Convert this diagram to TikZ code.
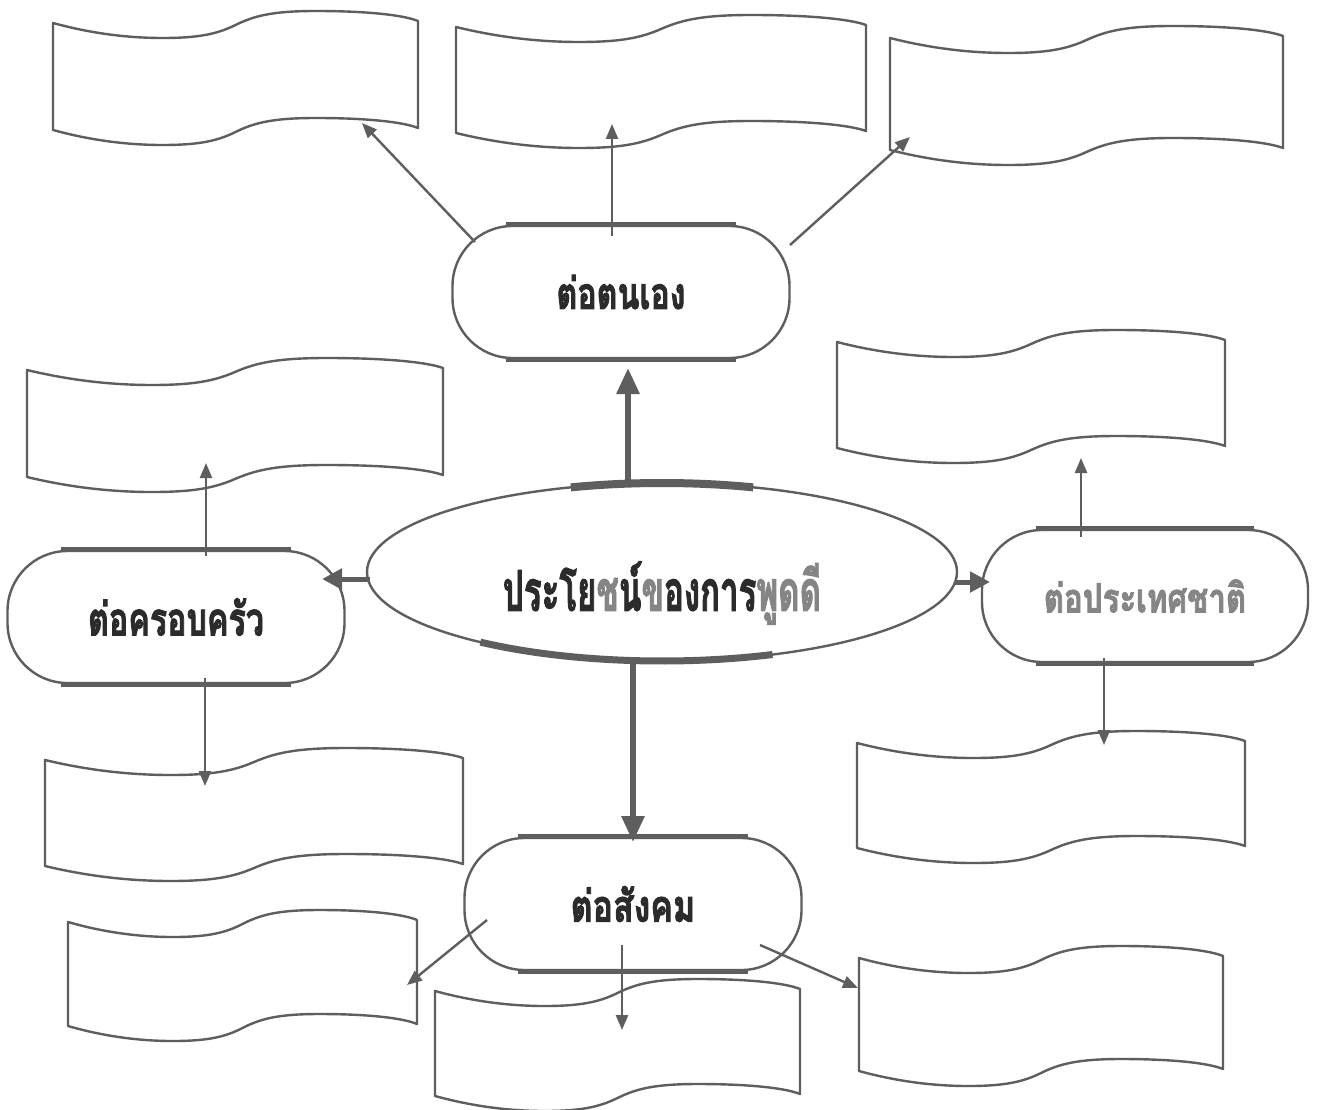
\documentclass[tikz,border=0pt]{standalone}
\usepackage{fontspec}
\usepackage{graphicx}
\newfontfamily\thai[Script=Thai,FakeBold=2.4]{Loma}
\usetikzlibrary{arrows.meta,shapes.geometric}
\definecolor{ln}{HTML}{5E5E5E}
\definecolor{tx}{HTML}{2B2B2B}
\definecolor{tl}{HTML}{858585}

\newcommand\tape[5]{%
\begin{scope}[shift={(#2,#3)}]
\draw[tapeline] (0,0) .. controls ({0.1*#4},10) and ({0.2*#4},15) .. ({0.3*#4},15)
 .. controls ({0.4*#4},15) and ({0.45*#4},11) .. ({0.5*#4},2)
 .. controls ({0.55*#4},-7) and ({0.6*#4},-12) .. ({0.72*#4},-12)
 .. controls ({0.86*#4},-12) and ({0.96*#4},-8) .. (#4,-2)
 -- (#4,{#5-2})
 .. controls ({0.96*#4},{#5-8}) and ({0.86*#4},{#5-12}) .. ({0.72*#4},{#5-12})
 .. controls ({0.6*#4},{#5-12}) and ({0.55*#4},{#5-7}) .. ({0.5*#4},{#5+2})
 .. controls ({0.45*#4},{#5+11}) and ({0.4*#4},{#5+15}) .. ({0.3*#4},{#5+15})
 .. controls ({0.2*#4},{#5+15}) and ({0.1*#4},{#5+10}) .. (0,#5) -- cycle;
\coordinate (#1) at ({0.5*#4},{#5/2});
\end{scope}}

\begin{document}
\begin{tikzpicture}[x=1pt,y=-1pt,
  tapeline/.style={draw=ln, line width=2.4pt, line join=round},
  stadium/.style={draw=ln, line width=2.4pt, rectangle, rounded corners=60pt,
    minimum width=337pt, minimum height=132pt, inner sep=0pt, font=\thai\bfseries, text=tx},
  thinarr/.style={draw=ln, line width=2.4pt, -{Triangle[length=15pt,width=12pt]}},
  thickarr/.style={draw=ln, line width=6pt, -{Triangle[length=26pt,width=22pt]}},
  sidearr/.style={draw=ln, line width=5pt, -{Triangle[length=20pt,width=20pt]}},
  band/.style={draw=ln, line width=5pt}
]
\useasboundingbox (0,0) rectangle (1324,1110);
\fill[white] (0,0) rectangle (1324,1110);

% tapes
\tape{tA}{53}{23}{365}{107}
\tape{tB}{456}{27}{410}{106}
\tape{tC}{890}{38}{393}{112}
\tape{tD}{27}{370}{416}{107}
\tape{tE}{837}{342}{388}{106}
\tape{tF}{45}{760}{418}{106}
\tape{tG}{857}{743}{388}{105}
\tape{tH}{68}{922}{349}{104}
\tape{tI}{435}{991}{365}{105}
\tape{tJ}{859}{958}{364}{113}

% central ellipse
\node[ellipse, draw=ln, line width=2.4pt, minimum width=590pt, minimum height=178pt, inner sep=0pt] (E) at (662,572) {};
\draw[ln, line width=8pt] plot[domain=72:108, samples=30] ({662+295*cos(\x)},{572-89*sin(\x)});
\draw[ln, line width=7pt] plot[domain=68:128, samples=40] ({662+295*cos(\x)},{572+89*sin(\x)});
\node[font=\thai\bfseries, text=tx] (Etext) at (662,593)
  {\scalebox{0.59}[1]{\fontsize{56}{62}\selectfont ประโย\textcolor{tl}{ช}น์\textcolor{tl}{ข}องการ\textcolor{tl}{พูดดี}}};

% stadium nodes
\node[stadium] (N1) at (621,292) {\scalebox{0.73}[1]{\fontsize{44}{50}\selectfont ต่อตนเอง}};
\node[stadium] (N2) at (176,617) {\scalebox{0.70}[1]{\fontsize{46}{52}\selectfont ต่อครอบครัว}};
\node[stadium, minimum width=326pt, text=tl] (N3) at (1145,596) {\scalebox{0.78}[1]{\fontsize{40}{46}\selectfont ต่อประเทศชาติ}};
\node[stadium] (N4) at (633,904) {\scalebox{0.77}[1]{\fontsize{44}{50}\selectfont ต่อสังคม}};

\foreach \n in {N1,N2,N3,N4}{
  \draw[band] ([xshift=55pt]\n.north west) -- ([xshift=-55pt]\n.north east);
  \draw[band] ([xshift=55pt]\n.south west) -- ([xshift=-55pt]\n.south east);
}

% coordinates for connector ends
\coordinate (e1) at (628,486); \coordinate (u1) at (628,368);
\coordinate (e4) at (633,662); \coordinate (u4) at (633,842);
\coordinate (e2) at (370,579); \coordinate (u2) at (322,579);
\coordinate (e3) at (955,582); \coordinate (u3) at (990,582);

\coordinate (sA) at (475,242); \coordinate (aA) at (362,123);
\coordinate (sB) at (612,236); \coordinate (aB) at (612,124);
\coordinate (sC) at (790,245); \coordinate (aC) at (910,137);
\coordinate (sD) at (206,556); \coordinate (aD) at (206,463);
\coordinate (sF) at (205,678); \coordinate (aF) at (205,786);
\coordinate (sE) at (1081,537); \coordinate (aE) at (1081,458);
\coordinate (sG) at (1104,658); \coordinate (aG) at (1104,745);
\coordinate (sH) at (487,920); \coordinate (aH) at (407,985);
\coordinate (sI) at (622,945); \coordinate (aI) at (622,1030);
\coordinate (sJ) at (760,945); \coordinate (aJ) at (858,988);

% main connectors
\draw[thickarr] (e1) -- (u1);
\draw[thickarr] (e4) -- (u4);
\draw[sidearr] (e2) -- (u2);
\draw[sidearr] (e3) -- (u3);

% branch connectors
\draw[thinarr] (sA) -- (aA);
\draw[thinarr] (sB) -- (aB);
\draw[thinarr] (sC) -- (aC);
\draw[thinarr] (sD) -- (aD);
\draw[thinarr] (sF) -- (aF);
\draw[thinarr] (sE) -- (aE);
\draw[thinarr] (sG) -- (aG);
\draw[thinarr] (sH) -- (aH);
\draw[thinarr] (sI) -- (aI);
\draw[thinarr] (sJ) -- (aJ);
\end{tikzpicture}
\end{document}
